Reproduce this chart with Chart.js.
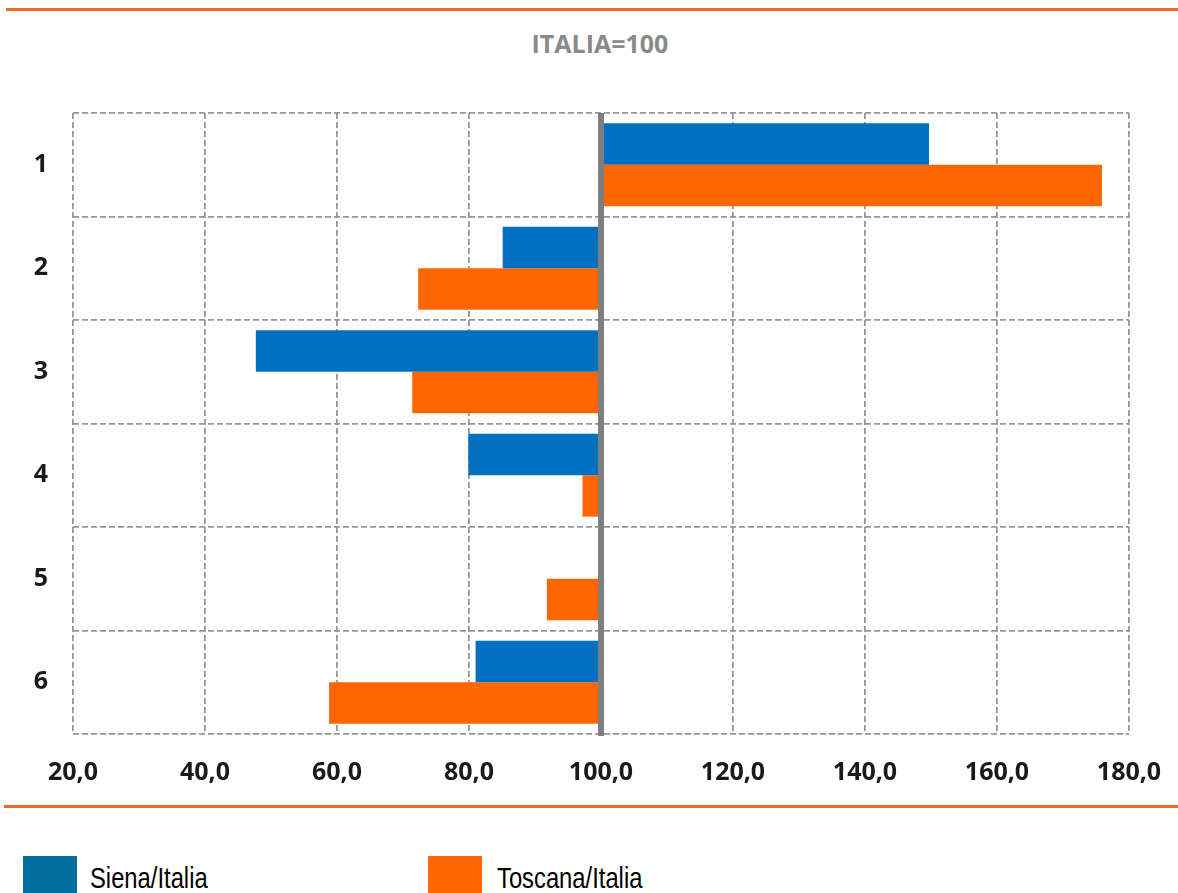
<!DOCTYPE html>
<html lang="it">
<head>
<meta charset="UTF-8">
<title>ITALIA=100</title>
<script src="https://cdn.jsdelivr.net/npm/chart.js"></script>
<style>
    body {
        margin: 0;
        background: #fff;
        width: 1178px;
        height: 893px;
        overflow: hidden;
        position: relative;
        font-family: "Open Sans", Arial, sans-serif;
    }
    #wrap {
        position: absolute;
        left: 0;
        top: 0;
        width: 1178px;
        height: 800px;
    }
    .rule {
        position: absolute;
        height: 3px;
        background: #ED6B28;
    }
    #title {
        position: absolute;
        left: 0;
        width: 1200px;
        top: 26px;
        text-align: center;
        font-weight: bold;
        font-size: 25px;
        color: #8a8a8a;
    }
    .leg {
        position: absolute;
        top: 862px;
        font-family: "Liberation Sans", Arial, sans-serif;
        font-size: 29px;
        line-height: 32px;
        color: #000;
        white-space: nowrap;
        transform: scaleX(0.82);
        transform-origin: left top;
    }
    .sw {
        position: absolute;
        top: 856px;
        width: 54px;
        height: 40px;
    }
</style>
</head>
<body>

<div class="rule" style="left:6px; right:0; top:8px;"></div>
<div id="title">ITALIA=100</div>
<div id="wrap"><canvas id="myChart"></canvas></div>
<div class="rule" style="left:4px; right:0; top:805px;"></div>

<div class="sw" style="left:23px; background:#00709F;"></div>
<div class="leg" style="left:90px;">Siena/Italia</div>
<div class="sw" style="left:428px; background:#FF6600;"></div>
<div class="leg" style="left:497px;">Toscana/Italia</div>

<script>
    var categories = ['1', '2', '3', '4', '5', '6'];
    var sienaItalia = [149.7, 85.1, 47.7, 79.9, null, 81.0];
    var toscanaItalia = [175.9, 72.3, 71.4, 97.2, 91.8, 58.8];
    var baseValue = 100;

    function toFloating(arr) {
        return arr.map(function (v) {
            return v === null ? null : [baseValue, v];
        });
    }

    // thick grey line at 100
    var baseLine = {
        id: 'baseLine',
        afterDatasetsDraw: function (chart) {
            var ctx = chart.ctx;
            var x = chart.scales.x.getPixelForValue(baseValue);
            var area = chart.chartArea;
            ctx.save();
            ctx.strokeStyle = '#7f7f7f';
            ctx.lineWidth = 6;
            ctx.beginPath();
            ctx.moveTo(x, area.top);
            ctx.lineTo(x, area.bottom + 2);
            ctx.stroke();
            ctx.restore();
        }
    };

    var gridDash = [6, 3];
    var tickFont = { family: '"Open Sans", sans-serif', size: 25, weight: 'bold' };

    var ctx = document.getElementById('myChart').getContext('2d');
    var myChart = new Chart(ctx, {
        type: 'bar',
        data: {
            labels: categories,
            datasets: [{
                label: 'Siena/Italia',
                data: toFloating(sienaItalia),
                backgroundColor: '#0070C0'
            }, {
                label: 'Toscana/Italia',
                data: toFloating(toscanaItalia),
                backgroundColor: '#FF6600'
            }]
        },
        plugins: [baseLine],
        options: {
            indexAxis: 'y',
            responsive: true,
            maintainAspectRatio: false,
            animation: false,
            layout: {
                padding: { left: 0, right: 49, top: 113, bottom: 0 }
            },
            datasets: {
                bar: {
                    categoryPercentage: 0.8,
                    barPercentage: 1.0
                }
            },
            plugins: {
                legend: { display: false },
                title: { display: false },
                tooltip: { enabled: false }
            },
            scales: {
                x: {
                    min: 20,
                    max: 180,
                    ticks: {
                        stepSize: 20,
                        color: '#1a1a1a',
                        font: tickFont,
                        padding: 24,
                        maxRotation: 0,
                        callback: function (v) {
                            return v.toFixed(1).replace('.', ',');
                        }
                    },
                    grid: {
                        color: '#969696',
                        lineWidth: 1.8,
                        drawTicks: false
                    },
                    border: { display: false, dash: gridDash },
                    afterFit: function (scale) {
                        scale.height = 66;
                        scale.paddingLeft = 0;
                        scale.paddingRight = 0;
                    }
                },
                y: {
                    ticks: {
                        color: '#1a1a1a',
                        font: tickFont,
                        padding: 25
                    },
                    grid: {
                        color: '#969696',
                        lineWidth: 1.8,
                        offset: true,
                        drawTicks: false
                    },
                    border: { display: false, dash: gridDash },
                    afterFit: function (scale) {
                        scale.width = 73;
                        scale.paddingTop = 0;
                        scale.paddingBottom = 0;
                    }
                }
            }
        }
    });
</script>

</body>
</html>
